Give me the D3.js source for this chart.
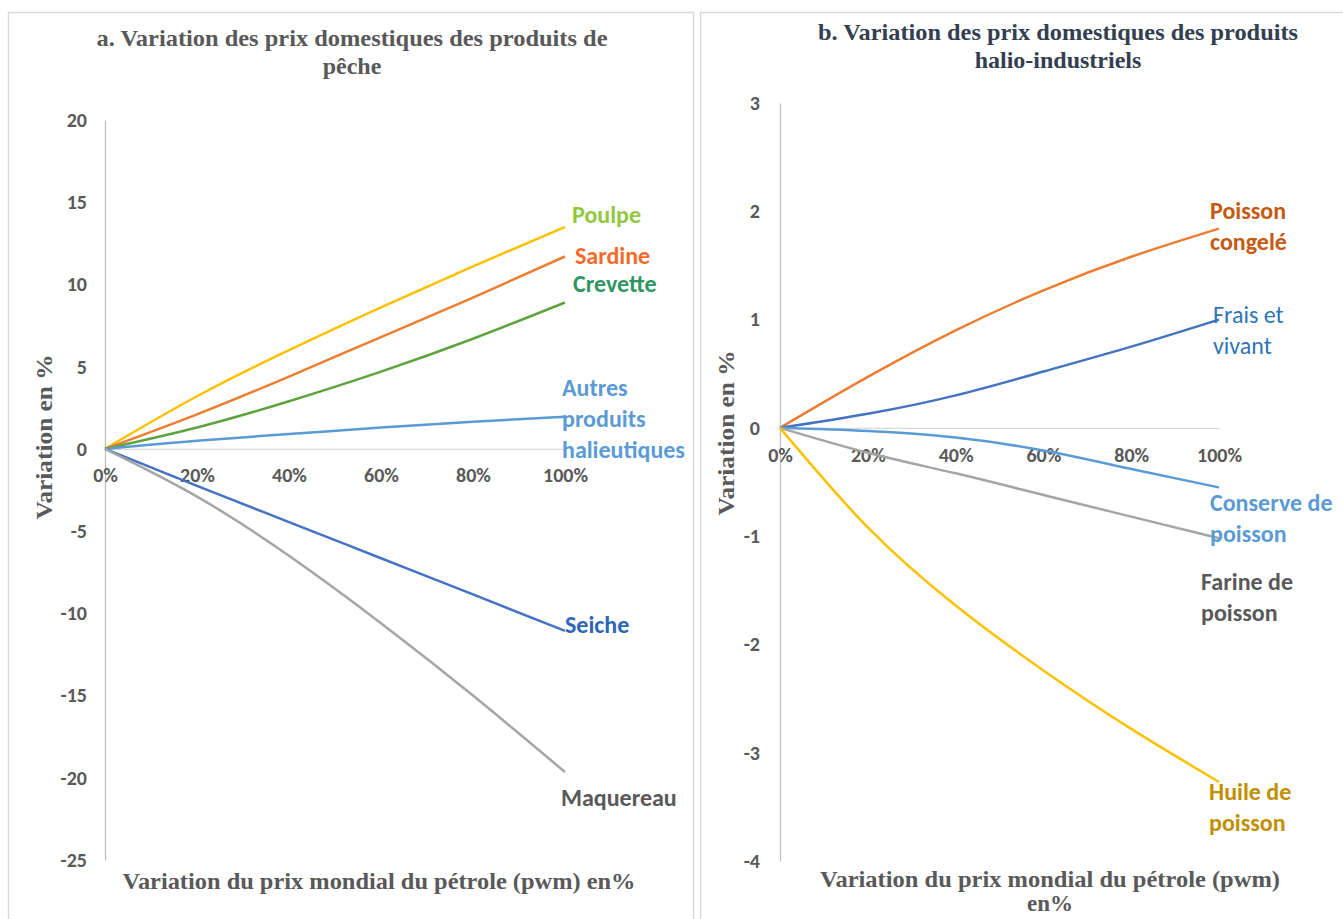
<!DOCTYPE html>
<html>
<head>
<meta charset="utf-8">
<script src="https://cdn.jsdelivr.net/npm/d3@7"></script>
<style>
  html, body { margin: 0; padding: 0; background: #fff; }
  svg { display: block; }
</style>
</head>
<body>
<svg id="chart" width="1343" height="919"></svg>
<script>
// ---------- DATA ----------
const xValues = [0, 20, 40, 60, 80, 100];
const xTickLabels = ["0%", "20%", "40%", "60%", "80%", "100%"];

// Panel a: produits de pêche
const poulpe = [0, 3.2, 6.0, 8.6, 11.1, 13.5];
const sardine = [0, 2.1, 4.4, 6.8, 9.2, 11.7];
const crevette = [0, 1.3, 2.9, 4.7, 6.7, 8.9];
const autresProduits = [0, 0.5, 0.9, 1.3, 1.65, 1.95];
const seiche = [0, -2.25, -4.45, -6.65, -8.85, -11.07];
const maquereau = [0, -2.9, -6.5, -10.6, -15.0, -19.65];
const leftYTicks = [20, 15, 10, 5, 0, -5, -10, -15, -20, -25];

// Panel b: produits halio-industriels
const poissonCongele = [0, 0.47, 0.9, 1.27, 1.58, 1.84];
const fraisVivant = [0, 0.13, 0.3, 0.52, 0.75, 1.0];
const conservePoisson = [0, -0.03, -0.09, -0.21, -0.38, -0.55];
const farinePoisson = [0, -0.23, -0.42, -0.62, -0.82, -1.02];
const huilePoisson = [0, -0.92, -1.64, -2.24, -2.78, -3.27];
const rightYTicks = [3, 2, 1, 0, -1, -2, -3, -4];

const titleA = ["a. Variation des prix domestiques des produits de", "pêche"];
const titleB = ["b. Variation des prix domestiques des produits", "halio-industriels"];
const yTitle = "Variation en %";
const xTitleA = ["Variation du prix mondial du pétrole (pwm) en%"];
const xTitleB = ["Variation du prix mondial du pétrole (pwm)", "en%"];

// ---------- LAYOUT / STYLE ----------
const sansFont = "Carlito, Lato, 'Open Sans', sans-serif";
const serifFont = "'Liberation Serif', 'Times New Roman', serif";
const axisGrey = "#D9D9D9";
const tickColor = "#595959";

const svg = d3.select("#chart");

// panel borders
svg.append("rect").attr("x", 8.5).attr("y", 12.5).attr("width", 685).attr("height", 930)
  .attr("fill", "none").attr("stroke", axisGrey).attr("stroke-width", 1.5);
svg.append("rect").attr("x", 700.5).attr("y", 12.5).attr("width", 660).attr("height", 930)
  .attr("fill", "none").attr("stroke", axisGrey).attr("stroke-width", 1.5);

function drawPanel(cfg) {
  const g = svg.append("g");
  const x = d3.scaleLinear().domain([0, 100]).range(cfg.xRange);
  const y = d3.scaleLinear().domain(cfg.yDomain).range(cfg.yRange);

  // y axis
  const yAxis = d3.axisLeft(y).tickValues(cfg.yTicks).tickSize(0).tickPadding(cfg.yPad)
    .tickFormat(d => String(d));
  const ya = g.append("g").attr("transform", `translate(${cfg.xRange[0]},0)`).call(yAxis);
  ya.select(".domain").attr("stroke", "#BFBFBF").attr("stroke-width", 1.3);
  ya.selectAll("text").attr("font-family", sansFont).attr("font-weight", "bold")
    .attr("font-size", 20).attr("fill", tickColor);

  // x axis at zero
  const xAxis = d3.axisBottom(x).tickValues(xValues).tickSize(0).tickPadding(cfg.xPad)
    .tickFormat((d, i) => xTickLabels[i]);
  const xa = g.append("g").attr("transform", `translate(0,${y(0)})`).call(xAxis);
  xa.select(".domain").attr("stroke", axisGrey).attr("stroke-width", 1.3);
  xa.selectAll("text").attr("font-family", sansFont).attr("font-weight", "bold")
    .attr("font-size", 20).attr("fill", tickColor);

  const line = d3.line().x((d, i) => x(xValues[i])).y(d => y(d)).curve(d3.curveNatural);

  cfg.series.forEach(s => {
    g.append("path").datum(s.values).attr("d", line)
      .attr("fill", "none").attr("stroke", s.color).attr("stroke-width", 2.5);
  });

  cfg.series.forEach(s => {
    const ex = x(100) + s.dx;
    const ey = y(s.values[s.values.length - 1]) + s.dy;
    const t = g.append("text").attr("font-family", sansFont)
      .attr("font-weight", s.weight || "bold").attr("font-size", 24)
      .attr("fill", s.labelColor);
    s.label.forEach((ln, i) => {
      t.append("tspan").attr("x", ex).attr("y", ey + i * 31).attr("dy", "0.35em").text(ln);
    });
  });

  // titles
  cfg.title.forEach((ln, i) => {
    g.append("text").attr("x", cfg.titleX).attr("y", cfg.titleY + i * 28)
      .attr("text-anchor", "middle").attr("font-family", serifFont).attr("font-weight", "bold")
      .attr("font-size", 24).attr("fill", cfg.titleColor)
      .attr("textLength", i === 0 ? cfg.titleLen : null)
      .attr("lengthAdjust", "spacingAndGlyphs")
      .text(ln);
  });

  // y title
  g.append("text").attr("transform", `translate(${cfg.yTitleX},${cfg.yTitleY}) rotate(-90)`)
    .attr("text-anchor", "middle").attr("font-family", serifFont).attr("font-weight", "bold")
    .attr("font-size", 24).attr("fill", "#595959").attr("dy", "0.35em")
    .attr("textLength", 165).attr("lengthAdjust", "spacingAndGlyphs").text(yTitle);

  // x title
  cfg.xTitle.forEach((ln, i) => {
    g.append("text").attr("x", cfg.xTitleX).attr("y", cfg.xTitleY + i * cfg.xTitleGap)
      .attr("text-anchor", "middle").attr("font-family", serifFont).attr("font-weight", "bold")
      .attr("font-size", 23).attr("fill", "#595959")
      .attr("textLength", i === 0 ? cfg.xTitleLen : null)
      .attr("lengthAdjust", "spacingAndGlyphs")
      .text(ln);
  });
}

drawPanel({
  xRange: [105, 565], yDomain: [-25, 20], yRange: [860, 120], yTicks: leftYTicks,
  yPad: 18, xPad: 19,
  title: titleA, titleX: 352, titleY: 46, titleLen: 511, titleColor: "#595959",
  yTitleX: 44, yTitleY: 437,
  xTitle: xTitleA, xTitleX: 379, xTitleY: 889, xTitleGap: 25, xTitleLen: 513,
  series: [
    { values: poulpe, color: "#FFC000", label: ["Poulpe"], labelColor: "#92C83E", dx: 7, dy: -12 },
    { values: sardine, color: "#ED7D31", label: ["Sardine"], labelColor: "#F26B2B", dx: 10, dy: -1 },
    { values: crevette, color: "#5FA33E", label: ["Crevette"], labelColor: "#2E9660", dx: 8, dy: -19 },
    { values: autresProduits, color: "#5B9BD5", label: ["Autres", "produits", "halieutiques"], labelColor: "#5B9BD5", dx: -3, dy: -29 },
    { values: seiche, color: "#4472C4", label: ["Seiche"], labelColor: "#2F65B6", dx: 0, dy: -6 },
    { values: maquereau, color: "#A5A5A5", label: ["Maquereau"], labelColor: "#595959", dx: -4, dy: 26 }
  ]
});

drawPanel({
  xRange: [780, 1219], yDomain: [-4, 3], yRange: [861, 103], yTicks: rightYTicks,
  yPad: 20, xPad: 20,
  title: titleB, titleX: 1058, titleY: 40, titleLen: 480, titleColor: "#333F50",
  yTitleX: 726, yTitleY: 433,
  xTitle: xTitleB, xTitleX: 1050, xTitleY: 887, xTitleGap: 24, xTitleLen: 460,
  series: [
    { values: poissonCongele, color: "#ED7D31", label: ["Poisson", "congelé"], labelColor: "#C55A11", dx: -9, dy: -18 },
    { values: fraisVivant, color: "#4472C4", label: ["Frais et", "vivant"], labelColor: "#2E75B6", dx: -6, dy: -5, weight: "normal" },
    { values: conservePoisson, color: "#5B9BD5", label: ["Conserve de", "poisson"], labelColor: "#5B9BD5", dx: -9, dy: 15 },
    { values: farinePoisson, color: "#A5A5A5", label: ["Farine de", "poisson"], labelColor: "#595959", dx: -18, dy: 43 },
    { values: huilePoisson, color: "#FFC000", label: ["Huile de", "poisson"], labelColor: "#BF9000", dx: -10, dy: 10 }
  ]
});
</script>
</body>
</html>
